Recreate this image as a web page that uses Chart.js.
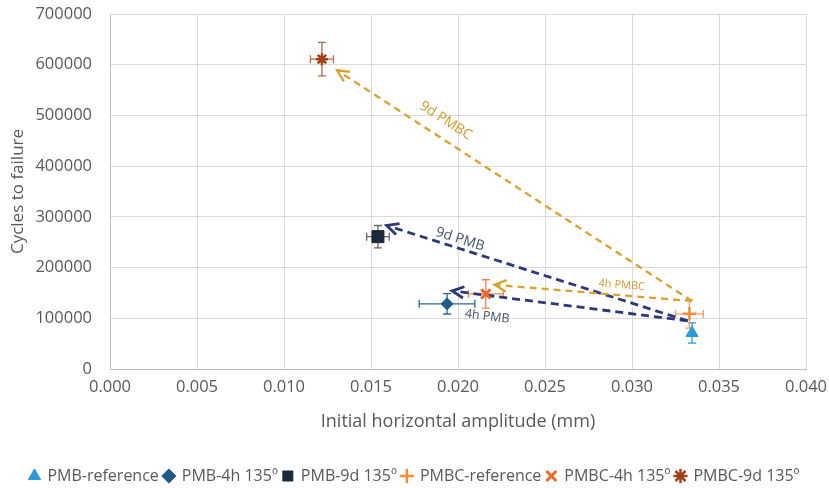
<!DOCTYPE html>
<html>
<head>
<meta charset="utf-8">
<script src="https://cdn.jsdelivr.net/npm/chart.js@4/dist/chart.umd.min.js"></script>
<style>
  html, body { margin: 0; padding: 0; background: #fff; }
  #wrap { width: 829px; height: 488px; }
</style>
</head>
<body>
<div id="wrap"><canvas id="fatigueChart"></canvas></div>
<script>
// series (one point each)
const seriesNames = ["PMB-reference", "PMB-4h 135º", "PMB-9d 135º", "PMBC-reference", "PMBC-4h 135º", "PMBC-9d 135º"];
const amplitude = [0.03345, 0.01937, 0.0154, 0.0333, 0.0216, 0.01218];
const cycles = [71000, 128500, 261000, 108700, 148000, 611000];
const amplitudeErr = [0.0001, 0.0016, 0.00065, 0.0008, 0.001, 0.00066];
const cyclesErr = [20000, 20000, 22000, 28000, 28000, 33000];

// ageing arrows
const arrowNames = ["9d PMBC", "4h PMBC", "9d PMB", "4h PMB"];
const arrowFromX = [0.03345, 0.03345, 0.0332, 0.0332];
const arrowFromY = [134000, 134000, 95000, 95000];
const arrowToX = [0.01305, 0.0221, 0.0159, 0.01966];
const arrowToY = [589000, 166000, 283000, 154000];

const xTicks = [0, 0.005, 0.01, 0.015, 0.02, 0.025, 0.03, 0.035, 0.04];
const yTicks = [0, 100000, 200000, 300000, 400000, 500000, 600000, 700000];

const pointColors = ["#2E9AD8", "#1F5B86", "#1B2A38", "#F58B34", "#EE6A2C", "#9E4119"];
const errColors = ["#2E9AD8", "#2A6B93", "#6A6A6A", "#F2A070", "#EC8658", "#B26B52"];
const pointShapes = ["triangle", "rectRot", "rect", "cross", "crossRot", "star"];
const pointSizes = [7, 6, 8.5, 6.5, 6.5, 6];
const pointBorders = [1, 1, 1, 2.5, 3, 2.5];

const arrowColors = ["#D9A22E", "#D9A22E", "#2D3878", "#2D3878"];
const labelColors = ["#D29A2A", "#D29A2A", "#44546A", "#44546A"];
// where along the arrow (0 = start, 1 = tip) the label sits, and side offset in px
const labelAt = [0.72, 0.36, 0.765, 0.84];
const labelOffset = [-17, -10, -9, 21];
const labelSize = [14, 11, 14, 12.5];

const font = "'Open Sans', 'Noto Sans', sans-serif";

const datasets = [];
arrowNames.forEach((name, i) => {
  datasets.push({
    type: "line",
    label: name,
    data: [
      { x: arrowFromX[i], y: arrowFromY[i] },
      { x: arrowToX[i], y: arrowToY[i] },
    ],
    borderColor: arrowColors[i],
    borderWidth: i < 2 ? 2.3 : 2.8,
    borderDash: i < 2 ? [7, 5] : [8, 5],
    pointRadius: 0,
    fill: false,
    order: 2,
  });
});
seriesNames.forEach((name, i) => {
  datasets.push({
    type: "scatter",
    label: name,
    data: [{ x: amplitude[i], y: cycles[i] }],
    pointStyle: pointShapes[i],
    pointRadius: pointSizes[i],
    pointBackgroundColor: pointColors[i],
    pointBorderColor: pointColors[i],
    backgroundColor: pointColors[i],
    borderColor: pointColors[i],
    pointBorderWidth: pointBorders[i],
    order: 0,
  });
});

const errorBars = {
  id: "errorBars",
  beforeDatasetsDraw(chart) {
    const { ctx, scales: { x, y } } = chart;
    ctx.save();
    ctx.lineWidth = 1.3;
    const cap = 4;
    seriesNames.forEach((_, i) => {
      const px = x.getPixelForValue(amplitude[i]);
      const py = y.getPixelForValue(cycles[i]);
      const x0 = x.getPixelForValue(amplitude[i] - amplitudeErr[i]);
      const x1 = x.getPixelForValue(amplitude[i] + amplitudeErr[i]);
      const y0 = y.getPixelForValue(cycles[i] - cyclesErr[i]);
      const y1 = y.getPixelForValue(cycles[i] + cyclesErr[i]);
      ctx.strokeStyle = errColors[i];
      ctx.beginPath();
      ctx.moveTo(px, y0); ctx.lineTo(px, y1);
      ctx.moveTo(px - cap, y0); ctx.lineTo(px + cap, y0);
      ctx.moveTo(px - cap, y1); ctx.lineTo(px + cap, y1);
      if (amplitudeErr[i] > 0.0002) {
        ctx.moveTo(x0, py); ctx.lineTo(x1, py);
        ctx.moveTo(x0, py - cap); ctx.lineTo(x0, py + cap);
        ctx.moveTo(x1, py - cap); ctx.lineTo(x1, py + cap);
      }
      ctx.stroke();
    });
    ctx.restore();
  },
};

const arrowHeads = {
  id: "arrowHeads",
  afterDatasetsDraw(chart) {
    const { ctx, scales: { x, y } } = chart;
    ctx.save();
    arrowNames.forEach((name, i) => {
      const sx = x.getPixelForValue(arrowFromX[i]);
      const sy = y.getPixelForValue(arrowFromY[i]);
      const ex = x.getPixelForValue(arrowToX[i]);
      const ey = y.getPixelForValue(arrowToY[i]);
      const ang = Math.atan2(ey - sy, ex - sx);
      const len = 13, spread = 0.45;
      ctx.strokeStyle = arrowColors[i];
      ctx.lineWidth = i < 2 ? 2.3 : 2.8;
      ctx.setLineDash([]);
      ctx.beginPath();
      ctx.moveTo(ex - len * Math.cos(ang - spread), ey - len * Math.sin(ang - spread));
      ctx.lineTo(ex, ey);
      ctx.lineTo(ex - len * Math.cos(ang + spread), ey - len * Math.sin(ang + spread));
      ctx.stroke();

      // label along the arrow
      let rot = ang;
      if (rot > Math.PI / 2 || rot < -Math.PI / 2) rot += Math.PI;
      const lx = sx + (ex - sx) * labelAt[i];
      const ly = sy + (ey - sy) * labelAt[i];
      ctx.save();
      ctx.translate(lx, ly);
      ctx.rotate(rot);
      ctx.font = labelSize[i] + "px " + font;
      ctx.fillStyle = labelColors[i];
      ctx.textAlign = "center";
      ctx.textBaseline = "middle";
      ctx.fillText(name, 0, labelOffset[i]);
      ctx.restore();
    });
    ctx.restore();
  },
};

Chart.defaults.font.family = font;
Chart.defaults.color = "#595959";

new Chart(document.getElementById("fatigueChart").getContext("2d"), {
  type: "scatter",
  data: { datasets },
  plugins: [errorBars, arrowHeads],
  options: {
    animation: false,
    responsive: true,
    maintainAspectRatio: false,
    layout: { padding: { top: 0, right: 0, left: 0, bottom: -6 } },
    plugins: {
      tooltip: { enabled: false },
      legend: {
        position: "bottom",
        labels: {
          filter: (item, data) => data.datasets[item.datasetIndex].type !== "line",
          usePointStyle: true,
          boxWidth: 10,
          boxHeight: 10,
          padding: 5,
          color: "#595959",
          font: { size: 16 },
        },
      },
    },
    scales: {
      x: {
        type: "linear",
        min: 0,
        max: 0.04,
        afterBuildTicks: (axis) => { axis.ticks = xTicks.map((v) => ({ value: v })); },
        afterFit: (scale) => {
          scale.height = 94;
          scale.paddingRight = 23;
          scale.paddingLeft = 0;
        },
        ticks: {
          callback: (v) => Number(v).toFixed(3),
          font: { size: 16.5 },
          color: "#595959",
          padding: 8,
        },
        grid: { color: "#D9D9D9", drawTicks: false },
        border: { color: "#BFBFBF" },
        title: {
          display: true,
          text: "Initial horizontal amplitude (mm)",
          font: { size: 18 },
          color: "#595959",
          padding: { top: 14, bottom: 30 },
        },
      },
      y: {
        min: 0,
        max: 700000,
        afterBuildTicks: (axis) => { axis.ticks = yTicks.map((v) => ({ value: v })); },
        afterFit: (scale) => {
          scale.width = 110;
          scale.paddingTop = 14;
          scale.paddingBottom = 0;
        },
        ticks: {
          callback: (v) => String(v),
          font: { size: 16.5 },
          color: "#595959",
          padding: 18,
        },
        grid: { color: "#D9D9D9", drawTicks: false },
        border: { color: "#BFBFBF" },
        title: {
          display: true,
          text: "Cycles to failure",
          font: { size: 17 },
          color: "#595959",
          padding: { top: 8, bottom: 8 },
        },
      },
    },
  },
});
</script>
</body>
</html>
